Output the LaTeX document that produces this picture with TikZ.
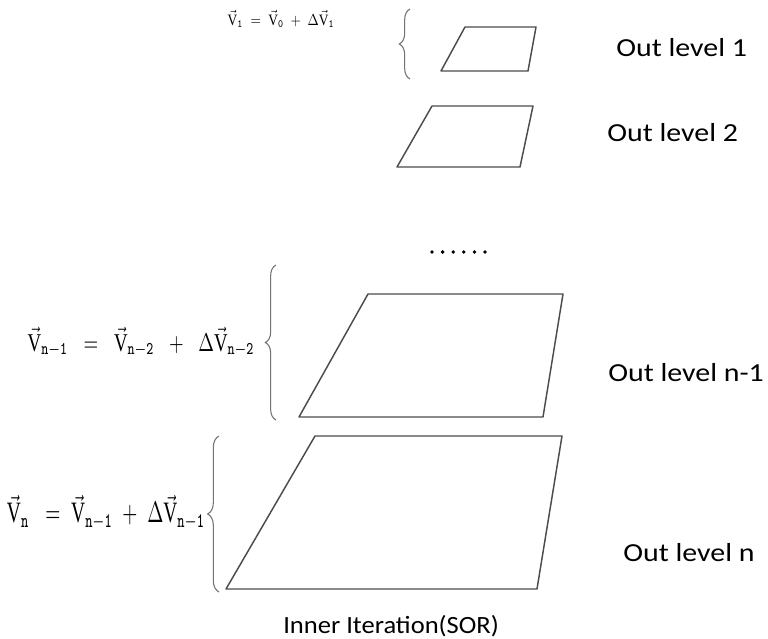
\documentclass[tikz,border=0pt]{standalone}
\usepackage{fontspec}
\setmainfont{Carlito}
\newfontfamily\eqfont{Liberation Serif}
\usetikzlibrary{decorations.pathreplacing}
\newcommand\myV{\vec{\hbox{\eqfont V}}}
\newcommand\mysub[1]{_{\mathtt{#1}}}
\begin{document}
\begin{tikzpicture}[x=0.75pt,y=-0.75pt,
  plane/.style={draw=black!70, line width=1.1pt, line join=round},
  curly/.style={draw=black!55, line width=0.8pt, decorate, decoration={brace, amplitude=#1}},
  lvl/.style={font=\fontsize{19.5}{23}\selectfont, anchor=west, inner sep=0pt},
  eqn/.style={inner sep=0pt},
  dotmark/.style={fill=black, draw=none}]
\useasboundingbox (0,0) rectangle (768,639);

% planes
\draw[plane] (465,27) coordinate (p1a) -- (536,27) coordinate (p1b) -- (528,71) coordinate (p1c) -- (441,71) coordinate (p1d) -- cycle;
\draw[plane] (432,106) coordinate (p2a) -- (533,106) coordinate (p2b) -- (520,167) coordinate (p2c) -- (397,167) coordinate (p2d) -- cycle;
\draw[plane] (368,294) coordinate (p3a) -- (563,294) coordinate (p3b) -- (543,417) coordinate (p3c) -- (299,417) coordinate (p3d) -- cycle;
\draw[plane] (315,436) coordinate (p4a) -- (562,436) coordinate (p4b) -- (537,589) coordinate (p4c) -- (226,589) coordinate (p4d) -- cycle;

% braces
\draw[curly=8pt] (410,79) coordinate (b1s) -- (410,9) coordinate (b1e);
\draw[curly=8pt] (276,420) coordinate (b3s) -- (276,265) coordinate (b3e);
\draw[curly=8.5pt] (219,592) coordinate (b4s) -- (219,436) coordinate (b4e);

% equations
\node[eqn] (e1) at (281,19) {\resizebox*{80pt}{13pt}{$\myV\mysub{1}\;=\;\myV\mysub{0}\;+\;\Delta\myV\mysub{1}$}};
\node[eqn] (e3) at (141,342) {\resizebox*{170pt}{22.5pt}{$\myV\mysub{n-1}\;\;=\;\;\myV\mysub{n-2}\;\;+\;\;\Delta\myV\mysub{n-2}$}};
\node[eqn] (e4) at (106,512.5) {\resizebox*{148.5pt}{26pt}{$\myV\mysub{n}\;\;=\;\myV\mysub{n-1}\;+\;\Delta\myV\mysub{n-1}$}};

% labels
\node[lvl] (l1) at (616,48) {\scalebox{1.15}[1]{Out level 1}};
\node[lvl] (l2) at (607,133) {\scalebox{1.15}[1]{Out level 2}};
\node[lvl] (l3) at (608,373) {\scalebox{1.15}[1]{Out level n-1}};
\node[lvl] (l4) at (623,553) {\scalebox{1.15}[1]{Out level n}};
\node[lvl, font=\fontsize{18.6}{22}\selectfont, anchor=base west] (l5) at (283,633) {\scalebox{1.07}[1]{Inner Iteration(SOR)}};

% dots
\foreach \i in {0,...,5} {\fill[dotmark] (432+10.6*\i,252) circle (1.9);}
\end{tikzpicture}
\end{document}
